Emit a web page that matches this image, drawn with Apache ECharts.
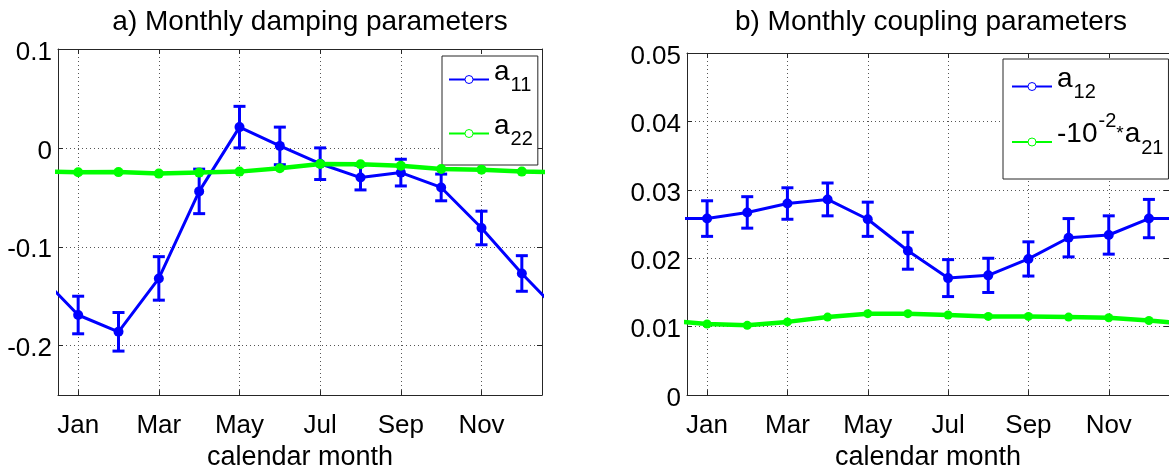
<!DOCTYPE html>
<html>
<head>
<meta charset="utf-8">
<script src="https://cdn.jsdelivr.net/npm/echarts@6/dist/echarts.min.js"></script>
<style>
  html, body { margin: 0; padding: 0; background: #fff; }
  #chart { width: 1169px; height: 476px; }
</style>
</head>
<body>
<div id="chart"></div>
<script>
// Calendar months and the ticks shown on the month axis
const monthNames = ['Jan', 'Feb', 'Mar', 'Apr', 'May', 'Jun', 'Jul', 'Aug', 'Sep', 'Oct', 'Nov', 'Dec'];
const monthTicks = [1, 3, 5, 7, 9, 11];
const dampingTicks = [-0.2, -0.1, 0, 0.1];
const couplingTicks = [0, 0.01, 0.02, 0.03, 0.04, 0.05];

// a) damping parameters
const a11 = [-0.169, -0.186, -0.132, -0.044, 0.021, 0.002, -0.016, -0.030, -0.025, -0.040, -0.081, -0.127];
const a11Err = [0.019, 0.0195, 0.022, 0.0225, 0.021, 0.019, 0.016, 0.0125, 0.0135, 0.0135, 0.017, 0.018];
const a22 = [-0.0246, -0.0245, -0.026, -0.025, -0.024, -0.0206, -0.0163, -0.0166, -0.018, -0.0213, -0.022, -0.024];

// b) coupling parameters
const a12 = [0.0258, 0.0267, 0.0280, 0.0286, 0.0257, 0.0211, 0.0171, 0.0175, 0.0199, 0.0230, 0.0234, 0.0258];
const a12Err = [0.0026, 0.0023, 0.0023, 0.0024, 0.0025, 0.0027, 0.0027, 0.0025, 0.0025, 0.0028, 0.0028, 0.0028];
const a21Scaled = [0.0104, 0.0102, 0.0107, 0.0114, 0.0119, 0.0119, 0.0117, 0.0115, 0.0115, 0.0114, 0.0113, 0.0109];

const FONT = '"Liberation Sans", Arial, Helvetica, sans-serif';
const AXIS = '#262626';
const BLUE = '#0000ff';
const GREEN = '#00ff00';

// The seasonal cycle is periodic: add December before January and January after December
function cyclic(values) {
  const pts = values.map((v, i) => [i + 1, v]);
  return [[0, values[11]]].concat(pts, [[13, values[0]]]);
}
function errorRanges(values, errs) {
  return values.map((v, i) => [i + 1, v - errs[i], v + errs[i]]);
}

function errorBarItem(params, api) {
  const x = api.value(0);
  const lo = api.coord([x, api.value(1)]);
  const hi = api.coord([x, api.value(2)]);
  const hw = 6;
  const style = { stroke: BLUE, lineWidth: 3, fill: null };
  return {
    type: 'group',
    children: [
      { type: 'line', shape: { x1: hi[0], y1: hi[1], x2: lo[0], y2: lo[1] }, style },
      { type: 'line', shape: { x1: hi[0] - hw, y1: hi[1], x2: hi[0] + hw, y2: hi[1] }, style },
      { type: 'line', shape: { x1: lo[0] - hw, y1: lo[1], x2: lo[0] + hw, y2: lo[1] }, style }
    ]
  };
}

function monthAxis(gridIndex, position) {
  const bottom = position === 'bottom';
  return {
    type: 'value', gridIndex, position, min: 0.5, max: 12.5,
    axisLine: { show: true, onZero: false, lineStyle: { color: AXIS, width: 1 } },
    axisTick: { show: true, inside: true, length: 5, customValues: monthTicks, lineStyle: { color: AXIS } },
    axisLabel: {
      show: bottom, customValues: monthTicks, margin: 18,
      formatter: v => monthNames[Math.round(v) - 1],
      fontSize: 26, color: '#000', fontFamily: FONT
    },
    splitLine: { show: bottom, lineStyle: { color: '#555', type: [1, 3], width: 1 } },
    name: bottom ? 'calendar month' : '',
    nameLocation: 'middle', nameGap: 43,
    nameTextStyle: { fontSize: 27, color: '#000', fontFamily: FONT }
  };
}

function valueAxis(gridIndex, position, min, max, ticks) {
  const left = position === 'left';
  return {
    type: 'value', gridIndex, position, min, max,
    axisLine: { show: true, onZero: false, lineStyle: { color: AXIS, width: 1 } },
    axisTick: { show: true, inside: true, length: 5, customValues: ticks, lineStyle: { color: AXIS } },
    axisLabel: {
      show: left, customValues: ticks, margin: 6,
      formatter: v => '{v|' + String(+(+v).toFixed(3)) + '}',
      rich: { v: { fontSize: 26, lineHeight: 26, color: '#000', fontFamily: FONT, padding: [7, 0, 0, 0] } }
    },
    splitLine: { show: left, lineStyle: { color: '#555', type: [1, 3], width: 1 } }
  };
}

function lineSeries(name, values, color, width, size, xi, yi) {
  return {
    name, type: 'line', xAxisIndex: xi, yAxisIndex: yi,
    data: cyclic(values),
    lineStyle: { color, width },
    itemStyle: { color },
    symbol: 'circle', symbolSize: size,
    clip: true, z: color === GREEN ? 4 : 3
  };
}

function errorSeries(name, values, errs, xi, yi) {
  return {
    name, type: 'custom', xAxisIndex: xi, yAxisIndex: yi,
    data: errorRanges(values, errs),
    encode: { x: 0, y: [1, 2] },
    renderItem: errorBarItem, z: 2
  };
}

// Legend labels with sub- and superscripts
const legendRich = {
  m: { fontSize: 28, lineHeight: 28, fontFamily: FONT, color: '#000', padding: [0, 0, 15, 0] },
  s: { fontSize: 20, lineHeight: 20, fontFamily: FONT, color: '#000', padding: [12, 0, 0, 1] },
  p: { fontSize: 20, lineHeight: 20, fontFamily: FONT, color: '#000', padding: [0, 0, 42, 1] },
  st: { fontSize: 19, lineHeight: 19, fontFamily: FONT, color: '#000', padding: [0, 1, 17, 0] }
};
const legendText = {
  a11: '{m|a}{s|11}',
  a22: '{m|a}{s|22}',
  a12: '{m|a}{s|12}',
  a21: '{m|-10}{p|-2}{st|*}{m|a}{s|21}'
};

function legendBox(names, colors, left, top, gap, padding) {
  return {
    orient: 'vertical', left, top, padding, itemGap: gap,
    itemWidth: 40, itemHeight: 10,
    backgroundColor: '#fff', borderColor: AXIS, borderWidth: 1,
    data: names.map((n, i) => ({
      name: n,
      itemStyle: { color: '#fff', borderColor: colors[i], borderWidth: 1 }
    })),
    formatter: n => legendText[n],
    textStyle: { rich: legendRich, fontFamily: FONT },
    selectedMode: false
  };
}

const chart = echarts.init(document.getElementById('chart'), null, { renderer: 'canvas' });
chart.setOption({
  animation: false,
  backgroundColor: '#fff',
  title: [
    { text: 'a) Monthly damping parameters', left: 310, top: 8, textAlign: 'center', padding: 0,
      textStyle: { fontSize: 28, fontWeight: 'normal', color: '#000', fontFamily: FONT } },
    { text: 'b) Monthly coupling parameters', left: 931, top: 8, textAlign: 'center', padding: 0,
      textStyle: { fontSize: 28, fontWeight: 'normal', color: '#000', fontFamily: FONT } }
  ],
  grid: [
    { left: 58, top: 49, width: 484, height: 353, containLabel: false },
    { left: 687, top: 53, width: 483, height: 345.5, containLabel: false }
  ],
  xAxis: [monthAxis(0, 'bottom'), monthAxis(0, 'top'), monthAxis(1, 'bottom'), monthAxis(1, 'top')],
  yAxis: [
    valueAxis(0, 'left', -0.25, 0.1, dampingTicks),
    valueAxis(0, 'right', -0.25, 0.1, dampingTicks),
    valueAxis(1, 'left', 0, 0.05, couplingTicks),
    valueAxis(1, 'right', 0, 0.05, couplingTicks)
  ],
  legend: [
    legendBox(['a11', 'a22'], [BLUE, GREEN], 442, 56, 11, [2, 5, 10, 6]),
    legendBox(['a12', 'a21'], [BLUE, GREEN], 1003, 59, 3, [6, 5, 6, 8])
  ],
  series: [
    errorSeries('a11 range', a11, a11Err, 0, 0),
    lineSeries('a11', a11, BLUE, 3, 10, 0, 0),
    lineSeries('a22', a22, GREEN, 4.5, 10, 0, 0),
    errorSeries('a12 range', a12, a12Err, 2, 2),
    lineSeries('a12', a12, BLUE, 3, 10, 2, 2),
    lineSeries('a21', a21Scaled, GREEN, 4.5, 9, 2, 2)
  ]
});
</script>
</body>
</html>
